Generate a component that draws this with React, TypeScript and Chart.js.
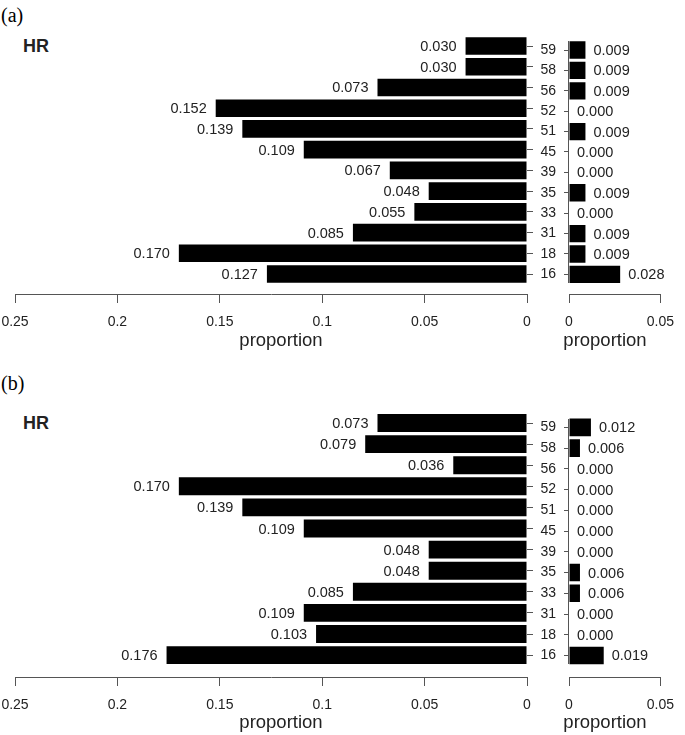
import { useEffect, useRef } from 'react';
import { Chart, registerables } from 'chart.js';

Chart.register(...registerables);

// ---------- data ----------
const CATEGORIES = ['59', '58', '56', '52', '51', '45', '39', '35', '33', '31', '18', '16'];
const A_LEFT = [0.030, 0.030, 0.073, 0.152, 0.139, 0.109, 0.067, 0.048, 0.055, 0.085, 0.170, 0.127];
const A_RIGHT = [0.009, 0.009, 0.009, 0.000, 0.009, 0.000, 0.000, 0.009, 0.000, 0.009, 0.009, 0.028];
const B_LEFT = [0.073, 0.079, 0.036, 0.170, 0.139, 0.109, 0.048, 0.048, 0.085, 0.109, 0.103, 0.176];
const B_RIGHT = [0.012, 0.006, 0.000, 0.000, 0.000, 0.000, 0.000, 0.006, 0.006, 0.000, 0.000, 0.019];
const LEFT_TICKS = [0, 0.05, 0.1, 0.15, 0.2, 0.25];
const LEFT_TICK_LABELS = ['0', '0.05', '0.1', '0.15', '0.2', '0.25'];
const RIGHT_TICKS = [0, 0.05];
const RIGHT_TICK_LABELS = ['0', '0.05'];
const X_TITLE = 'proportion';
const PANEL_TITLES = ['(a)', '(b)'];
const GROUP_LABEL = 'HR';

// ---------- layout ----------
const SANS = '"Liberation Sans", Arial, Helvetica, sans-serif';
const TEXT = '#222';
const AXIS = '#555';
const PAD_TOP = 12;
const X_AXIS_H = 45;
const TOP_EXT = 1.06;
const BAR_PCT = 0.85;

type PanelLayout = { c0: number; s: number; axisY: number; titleY: number; hrY: number; propY: number };
const PANELS: PanelLayout[] = [
  { c0: 46, s: 20.73, axisY: 294, titleY: 15, hrY: 46, propY: 340 },
  { c0: 423, s: 21.1, axisY: 677, titleY: 383, hrY: 423, propY: 722 },
];

function valueLabelPlugin(side: 'left' | 'right') {
  return {
    id: 'valueLabels',
    afterDatasetsDraw(chart: any) {
      const ctx = chart.ctx;
      const meta = chart.getDatasetMeta(0);
      const data = chart.data.datasets[0].data as { x: number; y: number }[];
      ctx.save();
      ctx.font = `14.5px ${SANS}`;
      ctx.fillStyle = TEXT;
      ctx.textBaseline = 'middle';
      ctx.textAlign = side === 'left' ? 'right' : 'left';
      meta.data.forEach((el: any, i: number) => {
        const v = data[i].x;
        const x = side === 'left' ? el.x - 9 : el.x + 8;
        ctx.fillText(v.toFixed(3), x, el.y + 1);
      });
      ctx.restore();
    },
  };
}

// R-style axis line: spans only the extent of the bars (first to last category)
const baselinePlugin = {
  id: 'baseline',
  afterDatasetsDraw(chart: any) {
    const y = chart.scales.y;
    const x = chart.scales.x;
    const meta = chart.getDatasetMeta(0);
    const first = meta.data[0];
    const last = meta.data[meta.data.length - 1];
    if (!first || !last) return;
    const top = first.y - first.height / 2;
    const bottom = last.y + last.height / 2;
    const px = Math.round(x.getPixelForValue(0)) - 0.5;
    const ctx = chart.ctx;
    ctx.save();
    ctx.strokeStyle = AXIS;
    ctx.lineWidth = 1;
    ctx.beginPath();
    ctx.moveTo(px, Math.round(top));
    ctx.lineTo(px, Math.round(bottom));
    ctx.stroke();
    ctx.restore();
    void y;
  },
};

function BarPanel({ values, side, layout }: { values: number[]; side: 'left' | 'right'; layout: PanelLayout }) {
  const ref = useRef<HTMLCanvasElement>(null);
  const chartTop = layout.c0 - TOP_EXT * layout.s;
  const canvasTop = Math.round(chartTop - PAD_TOP);
  const padTop = chartTop - canvasTop;
  const height = Math.round(layout.axisY - canvasTop + X_AXIS_H);
  const left = side === 'left' ? 0 : 520;
  const width = side === 'left' ? 548 : 165;
  const yMax = (layout.axisY - layout.c0) / layout.s;

  useEffect(() => {
    if (!ref.current) return;
    const ticks = side === 'left' ? LEFT_TICKS : RIGHT_TICKS;
    const tickLabels = side === 'left' ? LEFT_TICK_LABELS : RIGHT_TICK_LABELS;
    const chart = new Chart(ref.current, {
      type: 'bar',
      data: {
        datasets: [
          {
            data: values.map((v, i) => ({ x: v, y: i })),
            backgroundColor: '#000',
            borderWidth: 0,
            categoryPercentage: 1,
            barPercentage: BAR_PCT,
          },
        ],
      },
      options: {
        indexAxis: 'y',
        animation: false,
        responsive: false,
        devicePixelRatio: 1,
        events: [],
        layout: {
          padding: side === 'left'
            ? { left: 15, right: 0, top: padTop, bottom: 0 }
            : { left: 0, right: 13, top: padTop, bottom: 0 },
        },
        plugins: { legend: { display: false }, tooltip: { enabled: false } },
        scales: {
          x: {
            type: 'linear',
            position: 'bottom',
            min: 0,
            max: side === 'left' ? 0.25 : 0.05,
            reverse: side === 'left',
            offset: false,
            afterBuildTicks: (scale: any) => {
              scale.ticks = ticks.map((v) => ({ value: v }));
            },
            afterFit: (scale: any) => {
              scale.height = X_AXIS_H;
            },
            grid: { display: true, offset: false, drawOnChartArea: false, drawTicks: true, tickLength: 9, color: AXIS, lineWidth: 1 },
            border: { display: true, color: AXIS, width: 1 },
            ticks: {
              autoSkip: false,
              maxRotation: 0,
              minRotation: 0,
              padding: 11,
              color: TEXT,
              font: { family: SANS, size: 14 },
              callback: (_v: any, i: number) => tickLabels[i],
            },
          },
          y: {
            type: 'linear',
            position: side === 'left' ? 'right' : 'left',
            reverse: true,
            offset: false,
            min: -TOP_EXT,
            max: yMax,
            afterBuildTicks: (scale: any) => {
              scale.ticks = CATEGORIES.map((_, i) => ({ value: i }));
            },
            afterFit: (scale: any) => {
              scale.width = side === 'left' ? 21 : 49;
            },
            grid: { display: true, offset: false, drawOnChartArea: false, drawTicks: true, tickLength: side === 'left' ? 6 : 5, color: AXIS, lineWidth: 1 },
            border: { display: false },
            ticks: {
              display: side === 'right',
              autoSkip: false,
              padding: 8,
              color: TEXT,
              font: { family: SANS, size: 14 },
              callback: (_v: any, i: number) => CATEGORIES[i],
            },
          },
        },
      },
      plugins: side === 'right' ? [valueLabelPlugin(side), baselinePlugin] : [valueLabelPlugin(side)],
    } as any);
    return () => chart.destroy();
  }, [values, side, layout]);

  return (
    <canvas
      ref={ref}
      width={width}
      height={height}
      style={{ position: 'absolute', left, top: canvasTop, width, height }}
    />
  );
}

const centered = (x: number, y: number): React.CSSProperties => ({
  position: 'absolute',
  left: x,
  top: y,
  transform: 'translate(-50%, -50%)',
  whiteSpace: 'nowrap',
  lineHeight: 1,
});

export default function App() {
  const panelData = [
    { left: A_LEFT, right: A_RIGHT },
    { left: B_LEFT, right: B_RIGHT },
  ];
  return (
    <div style={{ position: 'absolute', left: 0, top: 0, width: 685, height: 735, background: '#fff', overflow: 'hidden' }}>
      {PANELS.map((p, k) => (
        <div key={k}>
          <div style={{ position: 'absolute', left: 1, top: p.titleY, transform: 'translateY(-50%)', fontFamily: '"Liberation Serif", "Times New Roman", serif', fontSize: 20, lineHeight: 1, color: '#000' }}>
            {PANEL_TITLES[k]}
          </div>
          <div style={{ position: 'absolute', left: 23, top: p.hrY, transform: 'translateY(-50%)', fontFamily: SANS, fontWeight: 'bold', fontSize: 18, lineHeight: 1, color: TEXT }}>
            {GROUP_LABEL}
          </div>
          <BarPanel values={panelData[k].left} side="left" layout={p} />
          <BarPanel values={panelData[k].right} side="right" layout={p} />
          <div style={{ ...centered(281, p.propY), fontFamily: SANS, fontSize: 18.5, color: TEXT }}>{X_TITLE}</div>
          <div style={{ ...centered(605, p.propY), fontFamily: SANS, fontSize: 18.5, color: TEXT }}>{X_TITLE}</div>
        </div>
      ))}
    </div>
  );
}
